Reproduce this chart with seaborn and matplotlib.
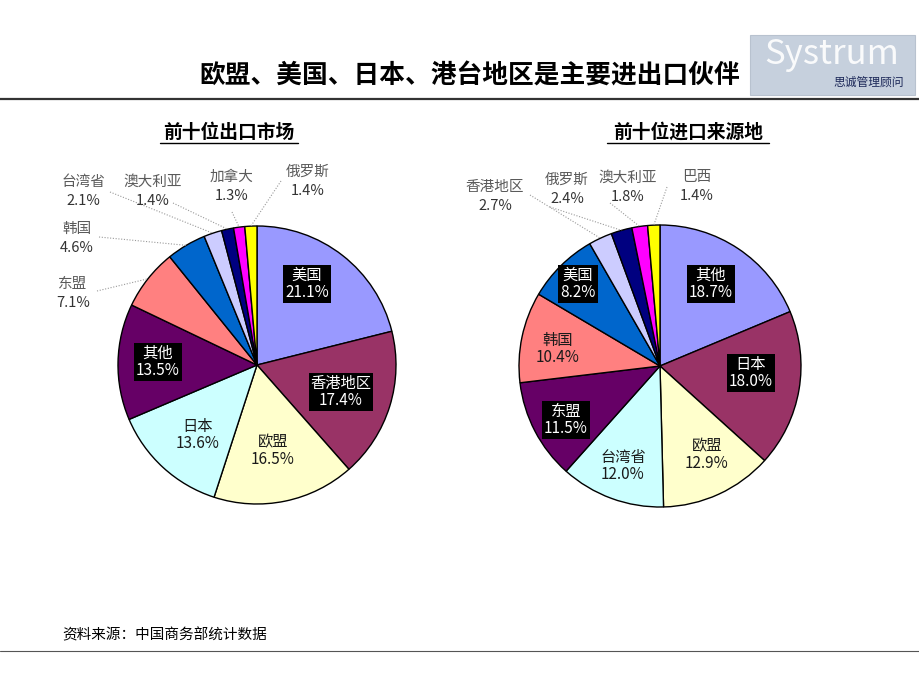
import matplotlib
matplotlib.use("Agg")
import matplotlib.pyplot as plt
import seaborn as sns
import numpy as np
from matplotlib.patches import Rectangle

# ---------------- data ----------------
export_markets = ["美国", "香港地区", "欧盟", "日本", "其他", "东盟", "韩国", "台湾省", "澳大利亚", "加拿大", "俄罗斯"]
export_share = [21.1, 17.4, 16.5, 13.6, 13.5, 7.1, 4.6, 2.1, 1.4, 1.3, 1.4]
import_sources = ["其他", "日本", "欧盟", "台湾省", "东盟", "韩国", "美国", "香港地区", "俄罗斯", "澳大利亚", "巴西"]
import_share = [18.7, 18.0, 12.9, 12.0, 11.5, 10.4, 8.2, 2.7, 2.4, 1.8, 1.4]

slice_colors = ["#9999FF", "#993366", "#FFFFCC", "#CCFFFF", "#660066", "#FF8080",
                "#0066CC", "#CCCCFF", "#000080", "#FF00FF", "#FFFF00"]

title_text = "欧盟、美国、日本、港台地区是主要进出口伙伴"
left_title = "前十位出口市场"
right_title = "前十位进口来源地"
source_text = "资料来源：中国商务部统计数据"

# ---------------- style ----------------
sns.set_theme(style="white")
plt.rcParams['font.family'] = ['Noto Sans CJK SC', 'DejaVu Sans']

W, H = 920, 690
fig = plt.figure(figsize=(9.2, 6.9), dpi=100)
ax = fig.add_axes([0, 0, 1, 1])


def P(x, y):
    """pixel (top-left origin) -> axes data coords"""
    return x, H - y


# label layout (styling): mode + pixel centre of label block
left_layout = [
    ("box", 307, 284), ("box", 341, 392), ("plain", 273, 451), ("plain", 198, 435),
    ("box", 158, 362), ("out", 73, 293), ("out", 77, 238), ("out", 83, 191),
    ("out", 153, 191), ("out", 232, 186), ("out", 308, 181)]
left_leader = [None, None, None, None, None, (97, 291), (99, 237), (110, 192),
               (173, 203), (232, 212), (281, 181)]
right_layout = [
    ("box", 711, 284), ("box", 751, 373), ("plain", 707, 455), ("plain", 623, 466),
    ("box", 566, 420), ("plain", 558, 349), ("box", 578, 284), ("out", 495, 196),
    ("out", 567, 189), ("out", 628, 187), ("out", 697, 186)]
right_leader = [None] * 7 + [(530, 195), (550, 207), (610, 203), (667, 187)]


def draw_pie(names, shares, cx, cy, r, layout, leaders):
    wedges, _ = ax.pie(shares, colors=slice_colors, startangle=90, counterclock=False,
                       center=P(cx, cy), radius=r,
                       wedgeprops=dict(edgecolor="black", linewidth=1.0))
    for w, name, val, (mode, lx, ly), lead in zip(wedges, names, shares, layout, leaders):
        if mode == "box":
            ax.text(*P(lx, ly), f"{name}\n{val:.1f}%", ha="center", va="center",
                    fontsize=11, color="white", linespacing=1.05,
                    bbox=dict(boxstyle="square,pad=0.12", facecolor="black", edgecolor="none"))
        elif mode == "plain":
            ax.text(*P(lx, ly), f"{name}\n{val:.1f}%", ha="center", va="center",
                    fontsize=11, color="#1a1a1a", linespacing=1.05)
        else:
            ax.text(*P(lx, ly - 9), name, ha="center", va="center", fontsize=10.5, color="#5a5a5a")
            ax.text(*P(lx, ly + 10), f"{val:.1f}%", ha="center", va="center", fontsize=10.5,
                    color="#333333")
            mid = np.deg2rad((w.theta1 + w.theta2) / 2)
            ex = w.center[0] + r * np.cos(mid)
            ey = w.center[1] + r * np.sin(mid)
            sx, sy = P(*lead)
            ax.plot([sx, ex], [sy, ey], color="#9a9a9a", lw=0.8, ls=(0, (1, 1.5)))


draw_pie(export_markets, export_share, 257, 365, 139, left_layout, left_leader)
draw_pie(import_sources, import_share, 660, 366, 141, right_layout, right_leader)

ax.set_xlim(0, W)
ax.set_ylim(0, H)
ax.set_aspect("equal")
ax.axis("off")

# titles
ax.text(*P(740, 76), title_text, ha="right", va="center", fontsize=18.5,
        fontweight="bold", color="black")
for txt, x in ((left_title, 229), (right_title, 688)):
    ax.text(*P(x, 132), txt, ha="center", va="center", fontsize=13.5,
            fontweight="bold", color="black")
for x0, x1 in ((160, 298), (607, 769)):
    ax.plot([x0, x1], [H - 143, H - 143], color="black", lw=1.0)

# separators
ax.plot([0, W], [H - 99, H - 99], color="#333333", lw=1.6)
ax.plot([0, W], [H - 651, H - 651], color="#555555", lw=0.8)
ax.text(*P(62, 635), source_text, ha="left", va="center", fontsize=10.5, color="black")

# logo
ax.add_patch(Rectangle(P(750, 95), 165, 60, facecolor="#C6D0DD", edgecolor="#B8C2CF", lw=0.8))
ax.text(*P(832, 55), "Systrum", ha="center", va="center", fontsize=25,
        color="white", alpha=0.9)
ax.text(*P(869, 82), "思诚管理顾问", ha="center", va="center", fontsize=8.5, color="#1E2A5A")

fig.savefig("out.png", dpi=100)
